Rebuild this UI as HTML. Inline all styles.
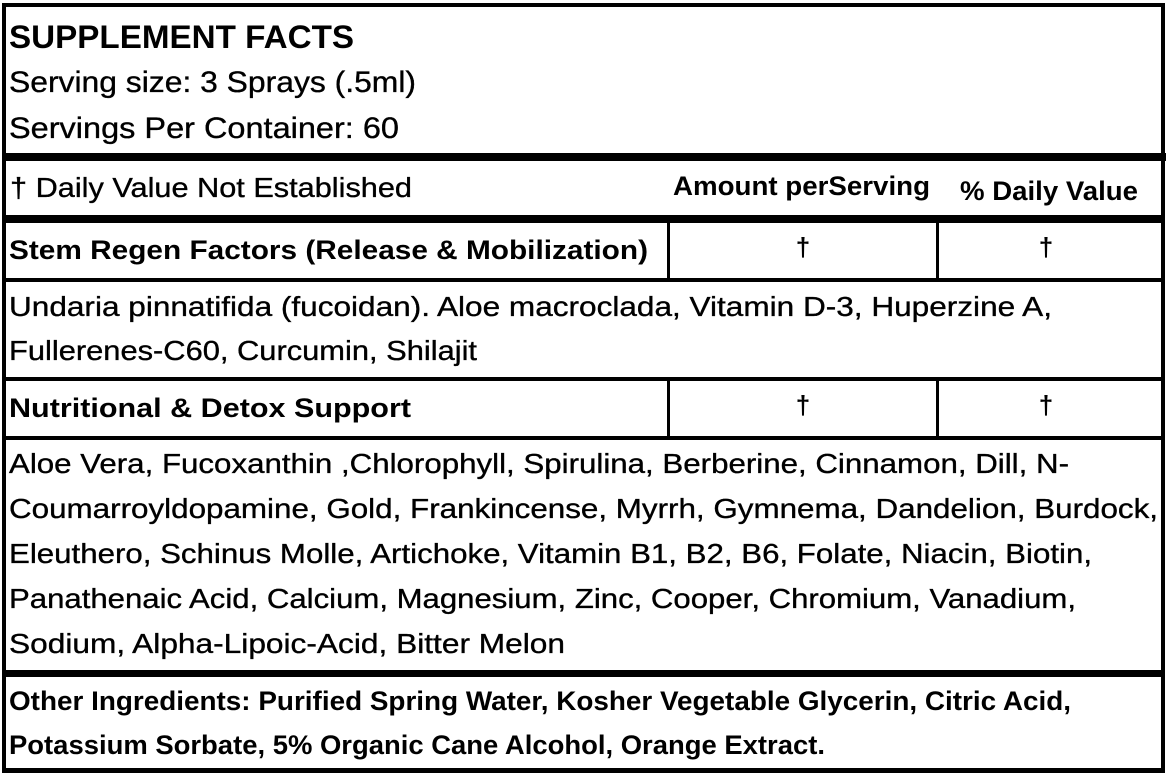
<!DOCTYPE html>
<html>
<head>
<meta charset="utf-8">
<style>
html,body{margin:0;padding:0;background:#fff;}
svg{display:block;}
text{font-family:"Liberation Sans",Arial,sans-serif;fill:#000;}
.r{stroke:#000;stroke-width:0.35;}
.b{font-weight:bold;}
</style>
</head>
<body>
<svg width="1166" height="779" viewBox="0 0 1166 779" xmlns="http://www.w3.org/2000/svg">
<rect x="0" y="0" width="1166" height="779" fill="#fff"/>
<!-- outer border -->
<rect x="2" y="3" width="4" height="770" fill="#000"/>
<rect x="2" y="3" width="1163" height="4" fill="#000"/>
<rect x="1161" y="3" width="4" height="770" fill="#000"/>
<rect x="2" y="768" width="1163" height="5" fill="#000"/>
<!-- horizontal rules -->
<rect x="2" y="153" width="1164" height="8" fill="#000"/>
<rect x="2" y="215" width="1163" height="8" fill="#000"/>
<rect x="2" y="278" width="1163" height="4" fill="#000"/>
<rect x="2" y="377" width="1163" height="4" fill="#000"/>
<rect x="2" y="436" width="1163" height="4" fill="#000"/>
<rect x="2" y="670" width="1163" height="7" fill="#000"/>
<!-- vertical rules -->
<rect x="667" y="223" width="3" height="56" fill="#000"/>
<rect x="936" y="223" width="3" height="56" fill="#000"/>
<rect x="667" y="381" width="3" height="56" fill="#000"/>
<rect x="936" y="381" width="3" height="56" fill="#000"/>

<!-- header -->
<text class="b" x="9" y="48" font-size="32" textLength="345" lengthAdjust="spacingAndGlyphs">SUPPLEMENT FACTS</text>
<text class="r" x="9" y="92" font-size="30" textLength="407" lengthAdjust="spacingAndGlyphs">Serving size: 3 Sprays (.5ml)</text>
<text class="r" x="9" y="138" font-size="30" textLength="390" lengthAdjust="spacingAndGlyphs">Servings Per Container: 60</text>

<text class="r" x="10" y="197" font-size="28" textLength="402" lengthAdjust="spacingAndGlyphs">† Daily Value Not Established</text>
<text class="b" x="673" y="195" font-size="27" textLength="257" lengthAdjust="spacingAndGlyphs">Amount perServing</text>
<text class="b" x="960" y="200" font-size="27" textLength="178" lengthAdjust="spacingAndGlyphs">% Daily Value</text>

<!-- Stem row -->
<text class="b" x="9" y="259" font-size="27" textLength="639" lengthAdjust="spacingAndGlyphs">Stem Regen Factors (Release &amp; Mobilization)</text>
<text class="b" x="803" y="256" font-size="26" text-anchor="middle">†</text>
<text class="b" x="1046" y="256" font-size="26" text-anchor="middle">†</text>

<text class="r" x="9" y="316" font-size="28" textLength="1043" lengthAdjust="spacingAndGlyphs">Undaria pinnatifida (fucoidan). Aloe macroclada, Vitamin D-3, Huperzine A,</text>
<text class="r" x="9" y="360" font-size="28" textLength="468" lengthAdjust="spacingAndGlyphs">Fullerenes-C60, Curcumin, Shilajit</text>

<!-- Nutritional row -->
<text class="b" x="9" y="417" font-size="27" textLength="402" lengthAdjust="spacingAndGlyphs">Nutritional &amp; Detox Support</text>
<text class="b" x="803" y="414" font-size="26" text-anchor="middle">†</text>
<text class="b" x="1046" y="414" font-size="26" text-anchor="middle">†</text>

<text class="r" x="9" y="473" font-size="28" textLength="1060" lengthAdjust="spacingAndGlyphs">Aloe Vera, Fucoxanthin ,Chlorophyll, Spirulina, Berberine, Cinnamon, Dill, N-</text>
<text class="r" x="9" y="518" font-size="28" textLength="1149" lengthAdjust="spacingAndGlyphs">Coumarroyldopamine, Gold, Frankincense, Myrrh, Gymnema, Dandelion, Burdock,</text>
<text class="r" x="9" y="563" font-size="28" textLength="1083" lengthAdjust="spacingAndGlyphs">Eleuthero, Schinus Molle, Artichoke, Vitamin B1, B2, B6, Folate, Niacin, Biotin,</text>
<text class="r" x="9" y="608" font-size="28" textLength="1067" lengthAdjust="spacingAndGlyphs">Panathenaic Acid, Calcium, Magnesium, Zinc, Cooper, Chromium, Vanadium,</text>
<text class="r" x="9" y="653" font-size="28" textLength="556" lengthAdjust="spacingAndGlyphs">Sodium, Alpha-Lipoic-Acid, Bitter Melon</text>

<!-- Other ingredients -->
<text class="b" x="9" y="710" font-size="27" textLength="1062" lengthAdjust="spacingAndGlyphs">Other Ingredients: Purified Spring Water, Kosher Vegetable Glycerin, Citric Acid,</text>
<text class="b" x="9" y="754" font-size="27" textLength="816" lengthAdjust="spacingAndGlyphs">Potassium Sorbate, 5% Organic Cane Alcohol, Orange Extract.</text>
</svg>
</body>
</html>
